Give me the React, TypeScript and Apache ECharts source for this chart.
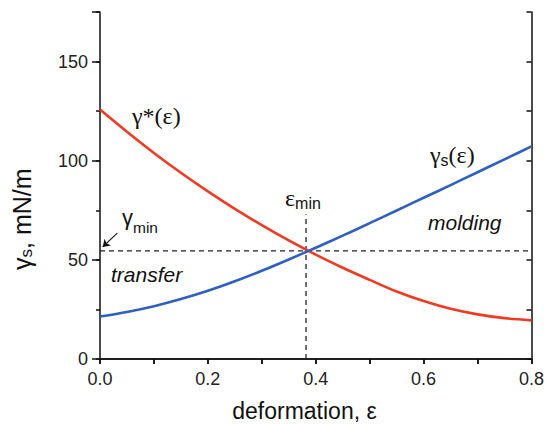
import React, { useEffect, useRef } from "react";
import * as echarts from "echarts";

const eps = [0, 0.05, 0.1, 0.15, 0.2, 0.25, 0.3, 0.35, 0.4, 0.45, 0.5, 0.55, 0.6, 0.65, 0.7, 0.75, 0.8];
const gammaStar = [125.8, 114.6, 103.9, 93.9, 84.5, 75.7, 67.5, 59.8, 52.6, 46.0, 39.9, 34.0, 29.2, 25.3, 22.5, 20.6, 19.5];
const gammaS = [21.4, 23.7, 26.6, 30.2, 34.4, 39.2, 44.5, 50.2, 56.1, 62.2, 68.5, 74.9, 81.3, 87.7, 94.2, 100.7, 107.2];
const epsMin = 0.382;
const gammaMin = 54.5;
const epsMinLineTop = 73;
const arrowFrom = [0.032, 63.5];
const arrowTo = [0.005, 56.5];
const xTickLabels = ["0.0", "0.2", "0.4", "0.6", "0.8"];
const yTickLabels = ["0", "50", "100", "150"];

const SANS = "'Liberation Sans', Arial, sans-serif";
const SERIF = "'Liberation Serif', 'Times New Roman', serif";
const RED = "#f23a22";
const BLUE = "#2f5fc2";
const AX = "#111";
const TXT = "#111";

let measureCtx: CanvasRenderingContext2D | null = null;
function mw(text: string, font: string): number {
  if (!measureCtx) measureCtx = document.createElement("canvas").getContext("2d");
  if (!measureCtx) return text.length * 10;
  measureCtx.font = font;
  return measureCtx.measureText(text).width;
}

type Part = { t: string; font: string; dy: number };
// builds left-aligned parts on one line; y is the middle of the main text
function parts(x: number, y: number, list: Part[]) {
  const out: any[] = [];
  let cx = x;
  for (const p of list) {
    out.push({
      type: "text", x: cx, y: y + p.dy,
      style: { text: p.t, font: p.font, fill: TXT, textAlign: "left", textVerticalAlign: "middle" },
    });
    cx += mw(p.t, p.font);
  }
  return out;
}

export default function App() {
  const ref = useRef<HTMLDivElement>(null);
  useEffect(() => {
    if (!ref.current) return;
    const chart = echarts.init(ref.current, null, { renderer: "svg" });
    const axLine = { show: true, lineStyle: { color: AX, width: 1.5 } };
    const xLabelFmt = (v: number) => {
      const s = v.toFixed(1);
      return xTickLabels.includes(s) ? s : "";
    };
    const yLabelFmt = (v: number) => {
      const s = String(Math.round(v));
      return yTickLabels.includes(s) ? s : "";
    };

    const serif24 = `24px ${SERIF}`;
    const sansMain = `25px ${SANS}`;

    const yName = {
      type: "group", x: 21.5, y: 270, rotation: Math.PI / 2,
      children: parts(0, 0, [
        { t: "γ", font: sansMain, dy: 0 },
        { t: "s", font: `17px ${SANS}`, dy: 5 },
        { t: ", mN/m", font: sansMain, dy: 0 },
      ]),
    };

    chart.setOption({
      animation: false,
      backgroundColor: "#fff",
      grid: { left: 100, right: 15, top: 12, bottom: 65, containLabel: false },
      xAxis: [
        {
          type: "value", position: "bottom", min: 0, max: 0.8, interval: 0.1,
          axisLine: axLine,
          axisTick: { show: true, inside: false, length: 5, lineStyle: { color: AX, width: 1.5 } },
          axisLabel: { formatter: xLabelFmt, fontFamily: SANS, fontSize: 18, color: "#222", margin: 11 },
          splitLine: { show: false },
        },
        {
          type: "value", position: "top", min: 0, max: 0.8, interval: 0.1,
          axisLine: axLine,
          axisTick: { show: true, inside: true, length: 5, lineStyle: { color: AX, width: 1.5 } },
          axisLabel: { show: false },
          splitLine: { show: false },
        },
      ],
      yAxis: [
        {
          type: "value", position: "left", min: 0, max: 175, interval: 50,
          axisLine: axLine,
          axisTick: { show: true, inside: false, length: 8, lineStyle: { color: AX, width: 1.5 } },
          axisLabel: { formatter: yLabelFmt, fontFamily: SANS, fontSize: 18, color: "#222", margin: 12 },
          splitLine: { show: false },
        },
        {
          type: "value", position: "left", min: 0, max: 175, interval: 25,
          axisLine: { show: false },
          axisTick: { show: true, inside: false, length: 4, lineStyle: { color: AX, width: 1.5 } },
          axisLabel: { show: false },
          splitLine: { show: false },
        },
        {
          type: "value", position: "right", min: 0, max: 175, interval: 25,
          axisLine: axLine,
          axisTick: { show: true, inside: true, length: 5, lineStyle: { color: AX, width: 1.5 } },
          axisLabel: { show: false },
          splitLine: { show: false },
        },
      ],
      series: [
        {
          type: "line", xAxisIndex: 0, yAxisIndex: 0, showSymbol: false, symbol: "none",
          data: [[0, gammaMin], [0.8, gammaMin]],
          lineStyle: { color: "#222", width: 1.3, type: [5, 4] }, z: 1,
        },
        {
          type: "line", xAxisIndex: 0, yAxisIndex: 0, showSymbol: false, symbol: "none",
          data: [[epsMin, 0], [epsMin, epsMinLineTop]],
          lineStyle: { color: "#222", width: 1.3, type: [5, 4] }, z: 1,
        },
        {
          type: "line", xAxisIndex: 0, yAxisIndex: 0, smooth: 0.3, showSymbol: false, symbol: "none",
          data: eps.map((e, i) => [e, gammaStar[i]]),
          lineStyle: { color: RED, width: 2.6 }, z: 2,
        },
        {
          type: "line", xAxisIndex: 0, yAxisIndex: 0, smooth: 0.3, showSymbol: false, symbol: "none",
          data: eps.map((e, i) => [e, gammaS[i]]),
          lineStyle: { color: BLUE, width: 2.6 }, z: 3,
        },
        {
          type: "lines", coordinateSystem: "cartesian2d", xAxisIndex: 0, yAxisIndex: 0,
          symbol: ["none", "arrow"], symbolSize: 7,
          data: [{ coords: [arrowFrom, arrowTo] }],
          lineStyle: { color: "#111", width: 1.1, opacity: 1 }, z: 4,
        },
      ],
      graphic: [
        ...parts(132, 115.6, [{ t: "γ*(ε)", font: serif24, dy: 0 }]),
        ...parts(430, 154.6, [
          { t: "γ", font: serif24, dy: 0 },
          { t: "s", font: `16px ${SANS}`, dy: 5.8 },
          { t: "(ε)", font: serif24, dy: 0 },
        ]),
        ...parts(285, 198, [
          { t: "ε", font: serif24, dy: 0 },
          { t: "min", font: `16px ${SANS}`, dy: 5.5 },
        ]),
        ...parts(122, 217, [
          { t: "γ", font: `22px ${SANS}`, dy: 0 },
          { t: "min", font: `15.5px ${SANS}`, dy: 10.5 },
        ]),
        ...parts(111, 274.7, [{ t: "transfer", font: `italic 21px ${SANS}`, dy: 0 }]),
        ...parts(428, 222, [{ t: "molding", font: `italic 21px ${SANS}`, dy: 0 }]),
        {
          type: "text", x: 304.5, y: 411,
          style: { text: "deformation, ε", font: `23px ${SANS}`, fill: TXT, textAlign: "center", textVerticalAlign: "middle" },
        },
        yName,
      ],
    });
    return () => chart.dispose();
  }, []);
  return <div ref={ref} style={{ width: 547, height: 424, position: "absolute", left: 0, top: 0 }} />;
}
